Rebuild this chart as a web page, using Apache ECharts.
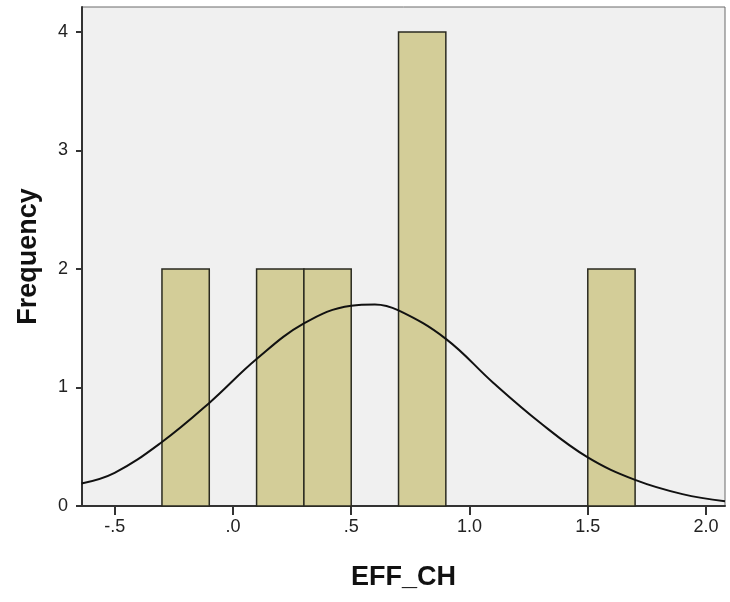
<!DOCTYPE html>
<html>
<head>
<meta charset="utf-8">
<script src="https://cdn.jsdelivr.net/npm/echarts@6/dist/echarts.min.js"></script>
<style>
  html, body { margin: 0; padding: 0; background: #fff; }
  #chart { width: 730px; height: 602px; }
</style>
</head>
<body>
<div id="chart"></div>
<script>
// histogram bins (EFF_CH), bin width .2
var binStart = [-0.3, 0.1, 0.3, 0.7, 1.5]
var binEnd = [-0.1, 0.3, 0.5, 0.9, 1.7]
var binCount = [2, 2, 2, 4, 2]

// normal curve
var curveX = [-0.64, -0.5, -0.3, -0.1, 0.1, 0.3, 0.5, 0.6, 0.7, 0.9, 1.1, 1.3, 1.5, 1.7, 1.9, 2.08]
var curveY = [0.19, 0.28, 0.54, 0.87, 1.24, 1.54, 1.69, 1.70, 1.65, 1.41, 1.04, 0.70, 0.41, 0.22, 0.10, 0.04]

var xTicks = [-0.5, 0, 0.5, 1.0, 1.5, 2.0]
var xTickLabels = ['-.5', '.0', '.5', '1.0', '1.5', '2.0']
var yTicks = [0, 1, 2, 3, 4]

var chart = echarts.init(document.getElementById('chart'))

var bars = []
for (var i = 0; i < binCount.length; i++) {
  bars.push([binStart[i], binEnd[i], binCount[i]])
}
var curve = []
for (var j = 0; j < curveX.length; j++) {
  curve.push([curveX[j], curveY[j]])
}

var option = {
  animation: false,
  grid: {
    left: 82,
    top: 7,
    right: 5,
    bottom: 96,
    show: true,
    backgroundColor: '#f0f0f0',
    borderColor: '#6a6a6a',
    borderWidth: 1
  },
  xAxis: {
    type: 'value',
    min: -0.638,
    max: 2.08,
    name: 'EFF_CH',
    nameLocation: 'middle',
    nameGap: 58,
    nameTextStyle: {
      fontFamily: 'Liberation Sans',
      fontWeight: 'bold',
      fontSize: 27,
      color: '#111'
    },
    axisLine: { show: true, onZero: false, lineStyle: { color: '#333', width: 2 } },
    axisTick: { show: true, length: 9, customValues: xTicks, lineStyle: { color: '#333', width: 2 } },
    axisLabel: {
      customValues: xTicks,
      margin: 12,
      fontFamily: 'Liberation Sans',
      fontSize: 18,
      color: '#222',
      formatter: function (v) {
        var k = xTicks.indexOf(v)
        return k >= 0 ? xTickLabels[k] : ''
      }
    },
    splitLine: { show: false }
  },
  yAxis: {
    type: 'value',
    min: 0,
    max: 4.21,
    name: 'Frequency',
    nameLocation: 'middle',
    nameGap: 40,
    nameTextStyle: {
      fontFamily: 'Liberation Sans',
      fontWeight: 'bold',
      fontSize: 27,
      color: '#111'
    },
    axisLine: { show: true, onZero: false, lineStyle: { color: '#333', width: 2 } },
    axisTick: { show: true, length: 6, customValues: yTicks, lineStyle: { color: '#333', width: 2 } },
    axisLabel: {
      customValues: yTicks,
      margin: 14,
      fontFamily: 'Liberation Sans',
      fontSize: 18,
      color: '#222'
    },
    splitLine: { show: false }
  },
  series: [
    {
      type: 'custom',
      data: bars,
      renderItem: function (params, api) {
        var p0 = api.coord([api.value(0), api.value(2)])
        var p1 = api.coord([api.value(1), 0])
        return {
          type: 'rect',
          shape: { x: p0[0], y: p0[1], width: p1[0] - p0[0], height: p1[1] - p0[1] },
          style: { fill: '#d3cd98', stroke: '#2a2a20', lineWidth: 1.5 }
        }
      },
      z: 2
    },
    {
      type: 'line',
      data: curve,
      smooth: 0.4,
      symbol: 'none',
      lineStyle: { color: '#111', width: 2 },
      z: 3
    }
  ]
}
chart.setOption(option)
</script>
</body>
</html>
